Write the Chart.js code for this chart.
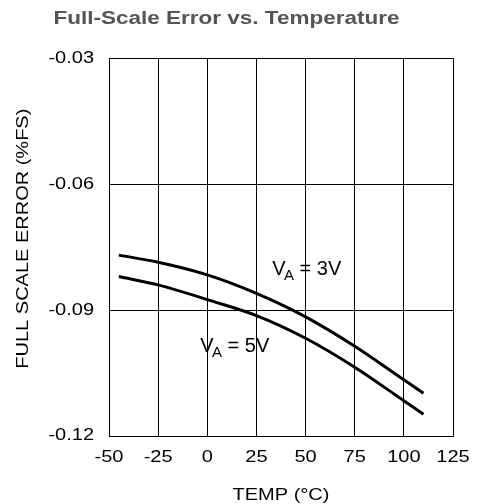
<!DOCTYPE html>
<html><head><meta charset="utf-8">
<script src="https://cdn.jsdelivr.net/npm/chart.js@4/dist/chart.umd.min.js"></script>
<style>html,body{margin:0;padding:0;background:#fff;}canvas{display:block;}</style>
</head><body>
<canvas id="c" width="483" height="504"></canvas>
<script>
// ---- data ----
const temps = [-45, -25, 0, 25, 50, 75, 100, 110];
const errVA3 = [-0.0769, -0.0786, -0.0816, -0.0860, -0.0916, -0.0986, -0.1066, -0.1098];
const errVA5 = [-0.0820, -0.0840, -0.0875, -0.0913, -0.0967, -0.1036, -0.1116, -0.1148];
const xTicks = [-50, -25, 0, 25, 50, 75, 100, 125];
const yTicks = [-0.12, -0.09, -0.06, -0.03];
const chartTitle = 'Full-Scale Error vs. Temperature';
const xTitle = 'TEMP (°C)';
const yTitle = 'FULL SCALE ERROR (%FS)';
const seriesLabels = [
  {name: 'V_A = 3V', main: 'V', sub: 'A', rest: ' = 3V', at: {x: 33, y: -0.0816}},
  {name: 'V_A = 5V', main: 'V', sub: 'A', rest: ' = 5V', at: {x: -3.6, y: -0.0999}}
];

const FONT = '"Liberation Sans", Arial, Helvetica, sans-serif';
const STRETCH = 1.25;

const canvas = document.getElementById('c');
const ctx0 = canvas.getContext('2d');
const rawFill = ctx0.fillText.bind(ctx0);
ctx0.fillText = function (text, x, y) {
  this.save();
  this.translate(x, y);
  this.scale(STRETCH, 1);
  rawFill(text, 0, 0);
  this.restore();
};

const extras = {
  id: 'extras',
  afterDraw(chart) {
    const ctx = chart.ctx;
    const xs = chart.scales.x, ys = chart.scales.y;
    ctx.save();
    ctx.fillStyle = '#000';
    // y axis title
    ctx.save();
    ctx.font = '16px ' + FONT;
    ctx.textAlign = 'center';
    ctx.textBaseline = 'middle';
    ctx.translate(24, (chart.chartArea.top + chart.chartArea.bottom) / 2 - 8.5);
    ctx.rotate(-Math.PI / 2);
    ctx.fillText(yTitle, 0, 0);
    ctx.restore();
    // curve labels
    ctx.textAlign = 'left';
    ctx.textBaseline = 'alphabetic';
    seriesLabels.forEach(l => {
      const x = xs.getPixelForValue(l.at.x);
      const y = ys.getPixelForValue(l.at.y);
      ctx.font = '20px ' + FONT;
      rawFill(l.main, x, y);
      let w = ctx.measureText(l.main).width - 1.5;
      ctx.font = '15px ' + FONT;
      rawFill(l.sub, x + w, y + 5.5);
      w += ctx.measureText(l.sub).width;
      ctx.font = '20px ' + FONT;
      rawFill(l.rest, x + w, y);
    });
    ctx.restore();
  }
};

new Chart(canvas, {
  type: 'line',
  data: {
    datasets: [
      {label: 'VA = 3V', data: temps.map((t, i) => ({x: t, y: errVA3[i]}))},
      {label: 'VA = 5V', data: temps.map((t, i) => ({x: t, y: errVA5[i]}))}
    ]
  },
  options: {
    responsive: false,
    devicePixelRatio: 1,
    animation: false,
    layout: {padding: {left: 0, right: 30, top: 0, bottom: 0}},
    elements: {
      point: {radius: 0},
      line: {borderColor: '#000', borderWidth: 3, cubicInterpolationMode: 'monotone', fill: false}
    },
    plugins: {
      legend: {display: false},
      tooltip: {enabled: false},
      title: {
        display: true,
        text: chartTitle,
        color: '#555',
        font: {family: FONT, size: 18, weight: 'bold', lineHeight: 1.2},
        padding: {top: 8.7, bottom: 28}
      }
    },
    scales: {
      x: {
        type: 'linear',
        min: -50, max: 125,
        afterBuildTicks: s => { s.ticks = xTicks.map(v => ({value: v})); },
        afterFit: s => { s.height = 68; },
        grid: {color: '#000', lineWidth: 1, drawTicks: false},
        border: {color: '#000', width: 1},
        ticks: {
          color: '#000', font: {family: FONT, size: 16}, padding: 12,
          maxRotation: 0, autoSkip: false,
          callback: v => String(v)
        },
        title: {
          display: true, text: xTitle, color: '#000',
          font: {family: FONT, size: 16, lineHeight: 1},
          padding: {top: 0, bottom: 0}
        }
      },
      y: {
        type: 'linear',
        min: -0.12, max: -0.03,
        afterBuildTicks: s => { s.ticks = yTicks.map(v => ({value: v})); },
        afterFit: s => { s.width = 109; },
        grid: {color: '#000', lineWidth: 1, drawTicks: false},
        border: {color: '#000', width: 1},
        ticks: {
          color: '#000', font: {family: FONT, size: 16}, padding: 15,
          callback: v => v.toFixed(2)
        }
      }
    }
  },
  plugins: [extras]
});
</script>
</body></html>
